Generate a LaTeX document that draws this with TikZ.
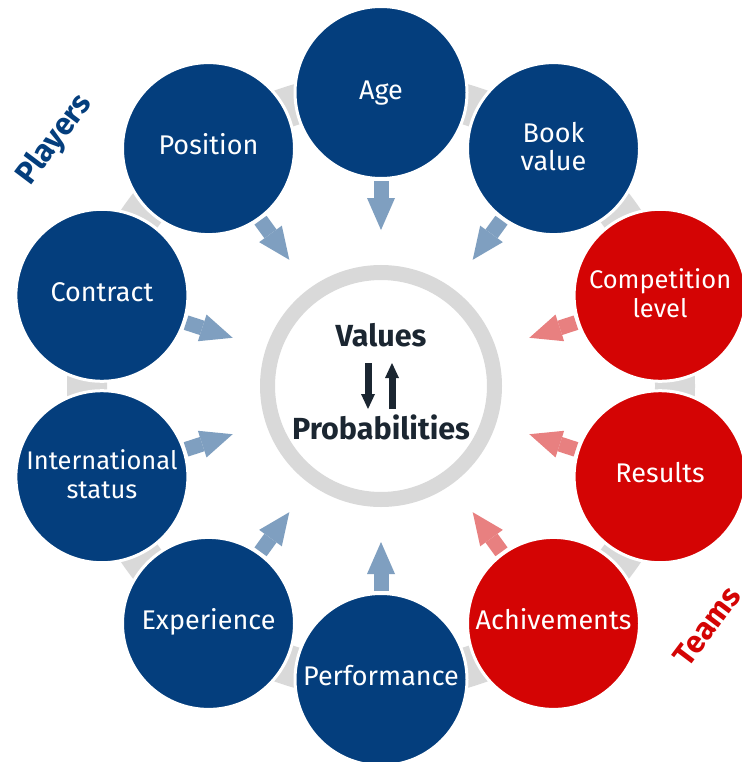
\documentclass[tikz,border=0pt]{standalone}
\usepackage{fontspec}
\setmainfont{Fira Sans}
\usetikzlibrary{arrows.meta}
\definecolor{navy}{HTML}{043E7D}
\definecolor{teamred}{HTML}{D40404}
\definecolor{ablue}{HTML}{7F9FC0}
\definecolor{ared}{HTML}{E88080}
\definecolor{ringgray}{HTML}{D9D9D9}
\definecolor{ink}{HTML}{1B2631}
\begin{document}
\begin{tikzpicture}[x=1pt,y=-1pt,
  bubble/.style={circle, minimum size=172pt, inner sep=0pt, draw=white, line width=3pt, fill=#1},
  lbl/.style={text=white, font=\fontsize{27}{28.5}\selectfont, align=center, inner sep=0pt, anchor=base},
  narrowlbl/.style={lbl, font=\fontsize{25.5}{28.5}\selectfont},
  feed/.style={draw=#1, line width=15pt, shorten <=1pt, shorten >=35pt,
    -{Triangle[width=28pt,length=32pt,line width=0pt]}},
  swap/.style={draw=ink, line width=7pt, -{Triangle[width=14pt,length=15pt,line width=0pt]}},
  coretext/.style={text=ink, font=\bfseries\fontsize{30.5}{32}\selectfont, inner sep=0pt, anchor=base},
  group/.style={text=#1, font=\bfseries\fontsize{31}{33}\selectfont, rotate=53, inner sep=0pt}
]
\useasboundingbox (0,0) rectangle (741,762);
\fill[white] (0,0) rectangle (741,762);

% big gray ring behind the bubbles
\draw[ringgray, line width=40pt] (381,386) circle[radius=294];

% core
\node[circle, draw=ringgray, line width=15pt, minimum size=227pt, inner sep=0pt, fill=white] (core) at (381,386) {};
\node[coretext] (vals) at (381,346) {Values};
\node[coretext] (probs) at (381,439) {Probabilities};
\coordinate (dnA) at (368,363);
\coordinate (dnB) at (368,409);
\coordinate (upA) at (392,409);
\coordinate (upB) at (392,363);
\draw[swap] (dnA) -- (dnB);
\draw[swap] (upA) -- (upB);

% bubbles
\node[bubble=navy] (age) at (381,92.5) {};
\node[bubble=navy] (book) at (553.5,148.6) {};
\node[bubble=teamred] (comp) at (660.1,295.3) {};
\node[bubble=teamred] (res) at (660.1,476.7) {};
\node[bubble=teamred] (ach) at (553.5,623.4) {};
\node[bubble=navy] (perf) at (381,679.5) {};
\node[bubble=navy] (exp) at (208.5,623.4) {};
\node[bubble=navy] (intl) at (101.9,476.7) {};
\node[bubble=navy] (cont) at (101.9,295.3) {};
\node[bubble=navy] (pos) at (208.5,148.6) {};

% labels (base = baseline of the last line)
\node[lbl] (age-t) at (381,99.5) {Age};
\node[lbl] (book-t) at (553.5,171) {Book\\value};
\node[narrowlbl] (comp-t) at (660.1,317) {Competition\\level};
\node[lbl] (res-t) at (660.1,482.2) {Results};
\node[lbl] (ach-t) at (553.5,629.8) {Achivements};
\node[lbl] (perf-t) at (381,685.5) {Performance};
\node[lbl] (exp-t) at (208.5,629.4) {Experience};
\node[narrowlbl] (intl-t) at (101.9,498) {International\\status};
\node[lbl] (cont-t) at (101.9,301.5) {Contract};
\node[lbl] (pos-t) at (208.5,155) {Position};

% arrows to the core
\draw[feed=ablue] (age) -- (core);
\draw[feed=ablue] (book) -- (core);
\draw[feed=ared] (comp) -- (core);
\draw[feed=ared] (res) -- (core);
\draw[feed=ared] (ach) -- (core);
\draw[feed=ablue] (perf) -- (core);
\draw[feed=ablue] (exp) -- (core);
\draw[feed=ablue] (intl) -- (core);
\draw[feed=ablue] (cont) -- (core);
\draw[feed=ablue] (pos) -- (core);

% group labels
\node[group=navy] (players) at (55,140) {Players};
\node[group=teamred] (teams) at (707,626) {Teams};
\end{tikzpicture}
\end{document}
